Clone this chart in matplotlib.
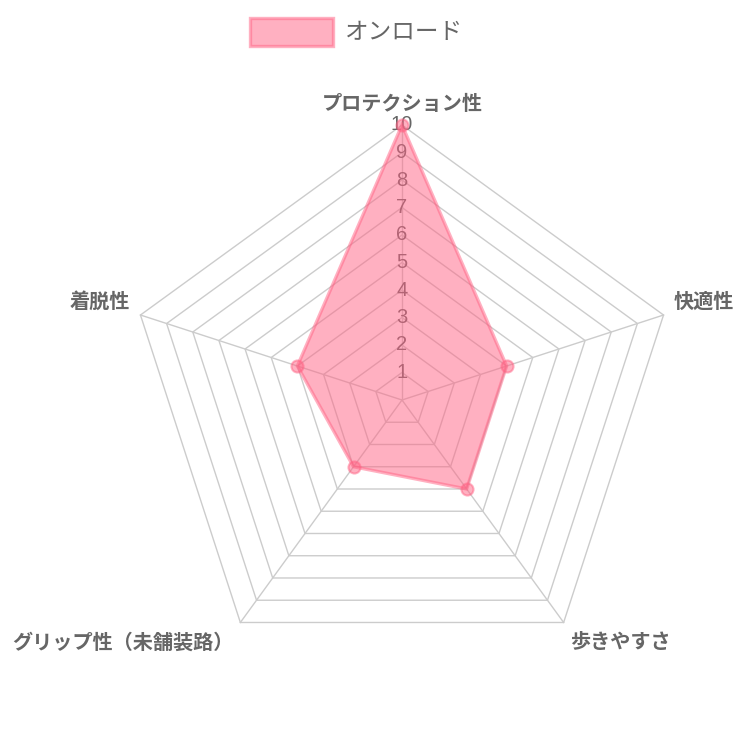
import numpy as np
import matplotlib
matplotlib.use("Agg")
import matplotlib.pyplot as plt
from matplotlib.patches import Polygon, Rectangle

plt.rcParams['font.family'] = ['Noto Sans CJK JP', 'DejaVu Sans']

# データ
labels = ["プロテクション性", "快適性", "歩きやすさ", "グリップ性（未舗装路）", "着脱性"]
values = [10, 4, 4, 3, 4]
series_name = "オンロード"
ticks = list(range(1, 11))
r_max = 10

pink_fill = (1.0, 99/255, 132/255, 0.5)
grid_color = "#cccccc"
text_color = "#666666"

fig = plt.figure(figsize=(7.36, 7.36), dpi=100)
ax = fig.add_axes([0, 0, 1, 1])
# 中心 (402, 400) px, 1目盛 = 27.5 px
scale = 27.5
ax.set_xlim(-402 / scale, (736 - 402) / scale)
ax.set_ylim((400 - 736) / scale, 400 / scale)
ax.axis("off")

n = len(labels)
ang = np.pi / 2 - 2 * np.pi * np.arange(n) / n
ux, uy = np.cos(ang), np.sin(ang)

# グリッド（五角形）
for t in ticks:
    ax.add_patch(Polygon(np.c_[ux * t, uy * t], closed=True, fill=False,
                         edgecolor=grid_color, lw=1.0, zorder=1))
for i in range(n):
    ax.plot([0, ux[i] * r_max], [0, uy[i] * r_max], color=grid_color, lw=1.0, zorder=1)

# 目盛ラベル
for t in ticks:
    ax.text(0, t, str(t), ha="center", va="center", fontsize=14.5,
            color=text_color, family=["Liberation Sans", "DejaVu Sans"], zorder=2)

# データ
v = np.array(values, dtype=float)
px, py = ux * v, uy * v
ax.add_patch(Polygon(np.c_[px, py], closed=True, facecolor=pink_fill,
                     edgecolor=pink_fill, lw=2.4, joinstyle="miter", zorder=3))
ax.scatter(px, py, s=75, color=pink_fill, edgecolors=pink_fill, linewidths=1.5, zorder=4)

# 軸ラベル
align = [("center", "bottom"), ("left", "bottom"), ("left", "top"),
         ("right", "top"), ("right", "bottom")]
lr = r_max + 0.4
for i, lab in enumerate(labels):
    ha, va = align[i]
    ax.text(ux[i] * lr, uy[i] * lr, lab, ha=ha, va=va, fontsize=14.5,
            fontweight="bold", color=text_color, zorder=5)

# 凡例
fig.patches.append(Rectangle((250 / 736, 1 - 46 / 736), 83 / 736, 28 / 736,
                             transform=fig.transFigure, facecolor=pink_fill,
                             edgecolor=pink_fill, lw=2.4))
fig.text(345 / 736, 1 - 32 / 736, series_name, ha="left", va="center",
         fontsize=17, color=text_color)

fig.savefig("out.png", dpi=100)
